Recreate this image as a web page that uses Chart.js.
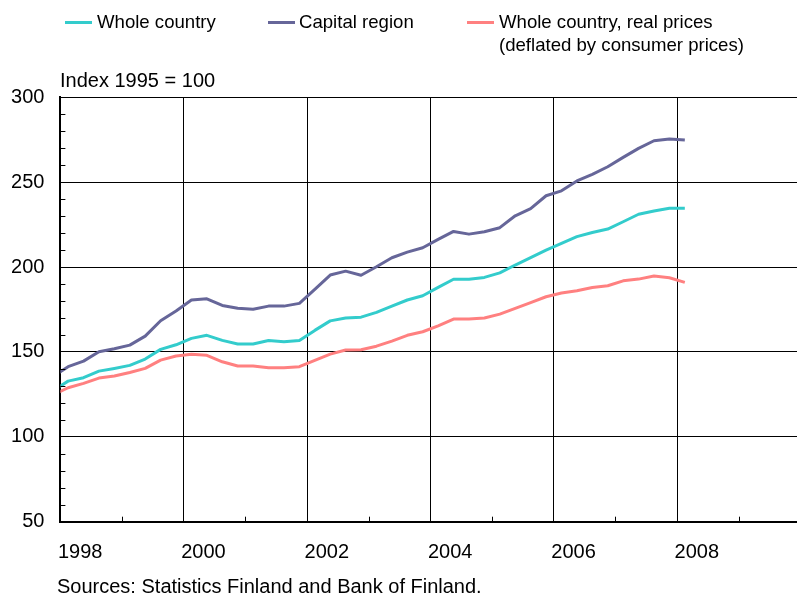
<!DOCTYPE html>
<html>
<head>
<meta charset="utf-8">
<script src="https://cdn.jsdelivr.net/npm/chart.js@4"></script>
<style>
html,body{margin:0;padding:0;background:#fff;}
#wrap{width:797px;height:597px;position:relative;}
</style>
</head>
<body>
<div id="wrap"><canvas id="c" width="797" height="597"></canvas></div>
<script>
// ---- Data ----
const quarters = ['1997Q4',
  '1998Q1','1998Q2','1998Q3','1998Q4','1999Q1','1999Q2','1999Q3','1999Q4',
  '2000Q1','2000Q2','2000Q3','2000Q4','2001Q1','2001Q2','2001Q3','2001Q4',
  '2002Q1','2002Q2','2002Q3','2002Q4','2003Q1','2003Q2','2003Q3','2003Q4',
  '2004Q1','2004Q2','2004Q3','2004Q4','2005Q1','2005Q2','2005Q3','2005Q4',
  '2006Q1','2006Q2','2006Q3','2006Q4','2007Q1','2007Q2','2007Q3','2007Q4',
  '2008Q1'];
const wholeCountry = [127.2,
  132.8,134.8,138.7,140.3,142.1,145.8,151.5,154.2,
  158.0,159.8,156.8,154.7,154.7,156.7,156.0,156.7,
  162.7,168.3,170.0,170.5,173.3,177.0,180.6,183.1,
  188.0,192.8,192.8,193.9,196.6,201.2,205.5,210.0,
  214.0,217.9,220.4,222.4,226.7,231.1,233.0,234.6,
  234.6];
const capitalRegion = [135.3,
  141.3,144.6,150.1,151.9,154.0,159.3,168.4,174.1,
  180.6,181.3,177.4,175.7,175.1,177.0,177.0,178.6,
  186.9,195.3,197.6,195.2,200.2,205.5,208.8,211.4,
  216.3,221.0,219.4,220.8,223.2,230.2,234.4,242.0,
  244.9,250.7,254.6,259.1,264.6,269.9,274.4,275.4,
  274.8];
const realPrices = [124.5,
  128.9,131.5,134.6,135.8,137.9,140.3,145.2,147.6,
  148.6,148.0,144.2,141.7,141.7,140.7,140.7,141.3,
  145.0,148.7,151.1,151.3,153.4,156.4,159.8,161.9,
  165.4,169.4,169.4,170.0,172.3,175.7,179.0,182.5,
  184.7,186.0,188.0,189.0,191.9,192.9,194.7,193.7,
  191.0];
const seriesNames = ['Whole country', 'Capital region', 'Whole country, real prices\n(deflated by consumer prices)'];
const yearTicks = [1998,1999,2000,2001,2002,2003,2004,2005,2006,2007,2008,2009];
const yTicks = [50,100,150,200,250,300];
const unitLabel = 'Index 1995 = 100';
const sourceText = 'Sources: Statistics Finland and Bank of Finland.';

// quarter label -> decimal year at mid-quarter
function qx(q){ const y = parseInt(q.slice(0,4),10); const n = parseInt(q.slice(5),10); return y + (n-1)/4 + 0.125; }
function pts(vals){ return vals.map((v,i)=>({x:qx(quarters[i]), y:v})); }

const FONT = "'Liberation Sans', Arial, Helvetica, sans-serif";
Chart.defaults.font.family = FONT;
Chart.defaults.color = '#000';

const colors = ['#33CCCC', '#666699', '#FF8080'];

const extras = {
  id: 'extras',
  afterDraw(chart){
    const ctx = chart.ctx;
    const xs = chart.scales.x, ys = chart.scales.y;
    const area = chart.chartArea;
    ctx.save();
    // minor ticks (inside plot)
    ctx.strokeStyle = '#000'; ctx.lineWidth = 1;
    ctx.beginPath();
    for (let v = 60; v < 300; v += 10){
      if (v % 50 === 0) continue;
      const y = Math.round(ys.getPixelForValue(v)) + 0.5;
      ctx.moveTo(area.left, y); ctx.lineTo(area.left + 5, y);
    }
    yearTicks.forEach(yr=>{
      if (yr % 2 === 0) return;
      const x = Math.round(xs.getPixelForValue(yr)) + 0.5;
      ctx.moveTo(x, area.bottom); ctx.lineTo(x, area.bottom - 5);
    });
    ctx.stroke();
    // legend
    const legendPos = [[65,97],[268,299],[467,499]];
    ctx.font = '18.6px ' + FONT;
    ctx.textBaseline = 'middle'; ctx.textAlign = 'left'; ctx.fillStyle = '#000';
    chart.data.datasets.forEach((ds, i)=>{
      const [lx, tx] = legendPos[i];
      ctx.strokeStyle = ds.borderColor; ctx.lineWidth = 3;
      ctx.beginPath(); ctx.moveTo(lx, 22.5); ctx.lineTo(lx + 27, 22.5); ctx.stroke();
      ds.label.split('\n').forEach((line, j)=>{ ctx.fillText(line, tx, 23 + j*22.5); });
    });
    // unit label
    ctx.font = '20px ' + FONT;
    ctx.fillText(unitLabel, 60, 81);
    // source
    ctx.font = '20px ' + FONT;
    ctx.fillText(sourceText, 57, 587);
    ctx.restore();
  }
};

new Chart(document.getElementById('c'), {
  type: 'line',
  data: {
    datasets: [
      {label: seriesNames[0], data: pts(wholeCountry), borderColor: colors[0]},
      {label: seriesNames[1], data: pts(capitalRegion), borderColor: colors[1]},
      {label: seriesNames[2], data: pts(realPrices), borderColor: colors[2]}
    ]
  },
  options: {
    responsive: false,
    animation: false,
    devicePixelRatio: 1,
    layout: {padding: {top: 97.3, right: 0, bottom: 0, left: 0}},
    elements: {
      line: {borderWidth: 3, tension: 0, borderJoinStyle: 'round', borderCapStyle: 'butt'},
      point: {radius: 0, hoverRadius: 0}
    },
    plugins: {legend: {display: false}, tooltip: {enabled: false}},
    scales: {
      x: {
        type: 'linear', min: 1998, max: 2009.944,
        afterBuildTicks: s => { s.ticks = yearTicks.map(v=>({value: v})); },
        afterFit: s => { s.height = 597 - 521.7; },
        border: {display: true, color: '#000', width: 2},
        grid: {
          drawTicks: false,
          color: c => (c.tick && c.tick.value % 2 === 0 && c.tick.value !== 1998) ? '#000' : 'rgba(0,0,0,0)',
          lineWidth: 1
        },
        ticks: {
          autoSkip: false, maxRotation: 0, align: 'start', padding: 19, labelOffset: -2.5,
          font: {size: 20},
          callback: v => (v % 2 === 0 ? String(v) : '')
        }
      },
      y: {
        min: 50, max: 300,
        afterBuildTicks: s => { s.ticks = yTicks.map(v=>({value: v})); },
        afterFit: s => { s.width = 60.4; },
        border: {display: true, color: '#000', width: 2},
        grid: {drawTicks: false, color: c => (c.tick && c.tick.value === 50) ? 'rgba(0,0,0,0)' : '#000', lineWidth: 1},
        ticks: {padding: 16, font: {size: 20}, callback: v => String(v)}
      }
    }
  },
  plugins: [extras]
});
</script>
</body>
</html>
